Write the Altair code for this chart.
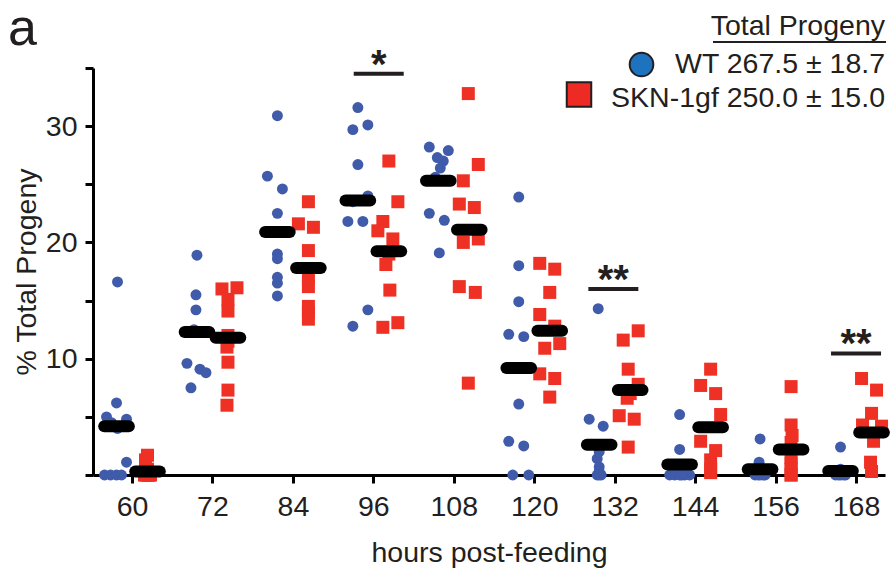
import altair as alt
import pandas as pd

# ---------------- data ----------------
hours = [60, 72, 84, 96, 108, 120, 132, 144, 156, 168]

wt_values = [
    [16.6, 6.2, 5.0, 4.8, 4.5, 4.0, 1.1, 0, 0, 0, 0],
    [18.9, 15.5, 14.2, 12.5, 9.6, 9.1, 8.8, 7.5],
    [30.9, 25.7, 24.6, 22.5, 19.0, 18.6, 17.0, 16.5, 15.4],
    [31.6, 30.1, 29.7, 26.7, 24.0, 23.5, 21.8, 21.8, 14.2, 12.8],
    [28.2, 27.9, 27.3, 27.0, 26.4, 25.6, 22.5, 21.9, 19.1],
    [23.9, 18.0, 14.9, 12.1, 11.9, 6.1, 2.9, 2.5, 0, 0],
    [14.3, 4.8, 4.2, 2.0, 1.4, 0.7, 0.3, 0, 0, 0],
    [5.2, 2.2, 0.5, 0, 0, 0, 0, 0, 0],
    [3.1, 1.1, 0.3, 0, 0, 0, 0, 0],
    [2.4, 0.5, 0, 0, 0, 0, 0],
]
wt_jitter = [
    [1, 0, -10, 10, -5, 1, 10, -12, -6, 0, 5],
    [0, -1, -1, -3, -10, 3, 9, -6],
    [0, -10, 5, 0, 0, 0, 0, 0, 0],
    [0, 10, -5, 0, 10, -5, -10, 5, 10, -5],
    [-9, 10, -1, 5, 2, -3, -9, 6, 1],
    [0, 0, 0, -10, 5, 0, -10, 5, -6, 10],
    [-1, -10, 4, 0, -2, 0, 0, -2, 0, 2],
    [0, 0, -3, -10, -5, 0, 5, 10, 2],
    [0, -1, 0, -5, 0, 5, -2, 3],
    [0, 0, -5, 0, 5, -2, 3],
]
skn_values = [
    [1.7, 1.3, 0.5, 0, 0, 0, 0, 0, 0],
    [16.0, 16.1, 15.1, 14.1, 12.0, 11.5, 11.0, 9.7, 7.3, 6.0],
    [23.5, 21.6, 21.3, 19.3, 17.0, 16.2, 14.5, 14.0, 13.4],
    [27.0, 23.5, 21.8, 21.0, 20.3, 19.0, 18.1, 15.9, 13.1, 12.7],
    [32.8, 26.7, 25.3, 23.3, 23.0, 20.3, 20.0, 16.2, 15.7, 7.9],
    [18.2, 17.7, 15.7, 13.8, 12.8, 11.3, 10.9, 8.7, 8.3, 6.7],
    [12.4, 11.6, 9.1, 7.8, 7.0, 6.6, 5.1, 4.8, 2.4],
    [9.1, 7.7, 7.0, 5.2, 2.9, 2.1, 1.3, 0.5, 0.2],
    [7.6, 4.3, 3.4, 2.8, 1.5, 1.0, 0.5, 0, 0],
    [8.3, 7.3, 5.3, 4.3, 4.2, 2.9, 1.1, 0.3],
]
skn_jitter = [
    [0, -2, 0, -2, 2, 0, -3, 3, 1],
    [-6, 9, 0, 0, 0, 0, -1, 0, 0, -1],
    [0, -10, 5, 0, 0, 0, 0, 0, 0],
    [0, 9, -6, -11, 4, 0, -3, 1, 9, -6],
    [-1, 9, -6, -10, 5, 9, -6, -10, 6, -1],
    [-10, 5, 0, -10, 5, 10, -5, -10, 5, 0],
    [8, -7, -2, 8, 0, -3, -11, 4, -2],
    [0, -10, 5, 10, -10, 5, 0, 0, 0],
    [0, 0, 1, 0, 0, 0, 0, 0, 0],
    [-10, 5, 0, -9, 10, 2, -1, 0],
]
wt_mean = [4.2, 12.3, 20.9, 23.6, 25.3, 9.2, 2.6, 0.9, 0.5, 0.35]
skn_mean = [0.3, 11.8, 17.8, 19.25, 21.1, 12.4, 7.3, 4.1, 2.2, 3.65]

sig_hours = [96.8, 131.8, 168]
sig_level = [34.5, 16.0, 10.45]
sig_label = ["*", "**", "**"]

strains = ["WT", "SKN-1gf"]
total_mean = [267.5, 250.0]
total_sd = [18.7, 15.0]

# ---------------- build tables ----------------
X_DOMAIN = [54.18, 172.32]
W, H = 792, 407
HPP = (X_DOMAIN[1] - X_DOMAIN[0]) / W   # hours per pixel
DODGE = 15.5 * HPP
HALF_BAR = 12.3 * HPP
HALF_SIG = 25 * HPP

rows = []
for strain, vals, jits, side in [("WT", wt_values, wt_jitter, -1),
                                 ("SKN-1gf", skn_values, skn_jitter, 1)]:
    for h, vs, js in zip(hours, vals, jits):
        for v, j in zip(vs, js):
            rows.append({"hour": h, "strain": strain, "value": v,
                         "x": h + side * DODGE + j * HPP})
pts_df = pd.DataFrame(rows)

mrows = []
for strain, means, side in [("WT", wt_mean, -1), ("SKN-1gf", skn_mean, 1)]:
    for h, m in zip(hours, means):
        c = h + side * DODGE
        mrows.append({"strain": strain, "hour": h, "mean": m,
                      "x1": c - HALF_BAR, "x2": c + HALF_BAR})
mean_df = pd.DataFrame(mrows)

sig_df = pd.DataFrame({"hour": sig_hours, "level": sig_level, "label": sig_label})
sig_df["x1"] = sig_df["hour"] - HALF_SIG
sig_df["x2"] = sig_df["hour"] + HALF_SIG

FONT = "Liberation Sans"
INK = "#231F20"
FS = 28.5

xscale = alt.Scale(domain=X_DOMAIN, nice=False, zero=False)
yscale = alt.Scale(domain=[0, 35], nice=False)

xaxis = alt.Axis(values=hours, title="hours post-feeding", labelPadding=9,
                 titlePadding=18, labelFlush=False)
yaxis = alt.Axis(values=[0, 5, 10, 15, 20, 25, 30, 35], title="% Total Progeny",
                 labelExpr="(datum.value % 10 == 0 && datum.value > 0) ? datum.label : ''",
                 labelPadding=8, titlePadding=4)

points = alt.Chart(pts_df).mark_point(filled=True, opacity=1, strokeWidth=0).encode(
    x=alt.X("x:Q", scale=xscale, axis=xaxis),
    y=alt.Y("value:Q", scale=yscale, axis=yaxis),
    shape=alt.Shape("strain:N", scale=alt.Scale(domain=strains, range=["circle", "square"]), legend=None),
    color=alt.Color("strain:N", scale=alt.Scale(domain=strains, range=["#3F5BAA", "#EE3124"]), legend=None),
    size=alt.Size("strain:N", scale=alt.Scale(domain=strains, range=[120, 169]), legend=None),
)

bars = alt.Chart(mean_df).mark_rule(color="black", strokeWidth=12, strokeCap="round").encode(
    x="x1:Q", x2="x2:Q", y="mean:Q"
)

sig_lines = alt.Chart(sig_df).mark_rule(color=INK, strokeWidth=4).encode(
    x="x1:Q", x2="x2:Q", y="level:Q"
)
sig_text = alt.Chart(sig_df).mark_text(font=FONT, fontSize=40, fontWeight="bold",
                                       color=INK, baseline="alphabetic", dy=4).encode(
    x="hour:Q", y="level:Q", text="label:N"
)

# panel letter
letter = alt.Chart(pd.DataFrame({"t": ["a"]})).mark_text(
    font=FONT, fontSize=52, color=INK, align="left", baseline="alphabetic"
).encode(x=alt.value(-85), y=alt.value(-23), text="t:N")

# legend block
title_df = pd.DataFrame({"t": ["Total Progeny"]})
leg_title = alt.Chart(title_df).mark_text(
    font=FONT, fontSize=FS, color=INK, align="right", baseline="alphabetic"
).encode(x=alt.value(W), y=alt.value(-33), text="t:N")
leg_under = alt.Chart(title_df).mark_rule(color=INK, strokeWidth=2).encode(
    x=alt.value(620), x2=alt.value(W + 1), y=alt.value(-26)
)
leg_df = pd.DataFrame({
    "strain": strains,
    "label": [f"{s} {m:.1f} ± {d:.1f}" for s, m, d in zip(strains, total_mean, total_sd)],
})
leg_wt = alt.Chart(leg_df[leg_df.strain == "WT"]).mark_text(
    font=FONT, fontSize=FS, color=INK, align="right", baseline="alphabetic"
).encode(x=alt.value(W), y=alt.value(5), text="label:N")
leg_skn = alt.Chart(leg_df[leg_df.strain == "SKN-1gf"]).mark_text(
    font=FONT, fontSize=FS, color=INK, align="right", baseline="alphabetic"
).encode(x=alt.value(W), y=alt.value(39), text="label:N")
sym_wt = alt.Chart(leg_df[leg_df.strain == "WT"]).mark_point(
    shape="circle", filled=True, fill="#1E73BE", stroke=INK, strokeWidth=2, size=560, opacity=1
).encode(x=alt.value(548.5), y=alt.value(-3.5))
sym_skn = alt.Chart(leg_df[leg_df.strain == "SKN-1gf"]).mark_point(
    shape="square", filled=True, fill="#EE2A24", stroke=INK, strokeWidth=2, size=600, opacity=1
).encode(x=alt.value(486), y=alt.value(26.5))

chart = alt.layer(
    points, bars, sig_lines, sig_text, letter,
    leg_title, leg_under, leg_wt, leg_skn, sym_wt, sym_skn
).properties(
    width=W, height=H,
    autosize=alt.AutoSizeParams(type="none"),
    padding={"left": 93, "top": 68, "right": 7, "bottom": 103},
).configure_view(stroke=None).configure_axis(
    grid=False, domainColor="black", domainWidth=3, tickColor="black", tickWidth=3,
    tickSize=8, labelFont=FONT, labelFontSize=FS, labelColor=INK,
    titleFont=FONT, titleFontSize=FS, titleFontWeight="normal", titleColor=INK,
).configure_text(font=FONT)

chart.save("out.html", embed_options={"renderer": "svg", "actions": False})
